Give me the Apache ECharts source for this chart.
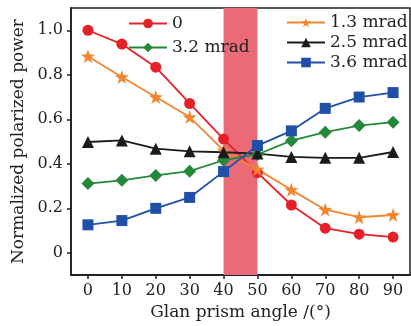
<!DOCTYPE html>
<html><head><meta charset="utf-8">
<script src="https://cdn.jsdelivr.net/npm/echarts@6/dist/echarts.min.js"></script>
<style>html,body{margin:0;padding:0;background:#fff}#c{width:411px;height:326px}</style>
</head><body><div id="c"></div>
<script>
const angles = [0,10,20,30,40,50,60,70,80,90];
const xTicks = [0,10,20,30,40,50,60,70,80,90];
const yTicks = [0,0.2,0.4,0.6,0.8,1.0];
const s0 = [1.00,0.938,0.834,0.671,0.511,0.36,0.215,0.111,0.084,0.071];
const s13 = [0.883,0.79,0.70,0.61,0.46,0.375,0.283,0.194,0.16,0.17];
const s25 = [0.498,0.505,0.468,0.456,0.452,0.446,0.431,0.427,0.427,0.453];
const s32 = [0.311,0.326,0.348,0.367,0.416,0.442,0.504,0.542,0.572,0.587];
const s36 = [0.126,0.145,0.20,0.249,0.365,0.482,0.548,0.649,0.70,0.72];
const band = [40,50];

const font = 'DejaVu Serif';
const txt = '#222';
function mk(name, vals, color, symbol, size, extra){
  return Object.assign({
    name, type:'line', data: angles.map((a,i)=>[a, vals[i]]),
    symbol, symbolSize:size, lineStyle:{color, width:1.8}, itemStyle:{color},
    emphasis:{disabled:true}
  }, extra||{});
}
const chart = echarts.init(document.getElementById('c'), null, {renderer:'canvas'});
chart.setOption({
  animation:false,
  grid:{left:71, right:1, top:8, bottom:49, show:true, borderColor:'#222', borderWidth:1.5},
  xAxis:{type:'value', min:-5, max:95,
    name:'Glan prism angle /(°)', nameLocation:'middle', nameGap:25,
    nameTextStyle:{fontFamily:font, fontSize:17, color:txt},
    axisLine:{onZero:false, lineStyle:{color:'#222', width:1.8}},
    axisTick:{show:true, inside:false, length:4, customValues:xTicks, lineStyle:{color:'#222', width:1.5}},
    axisLabel:{customValues:xTicks, fontFamily:font, fontSize:16, color:txt, margin:8},
    splitLine:{show:false}},
  yAxis:{type:'value', min:-0.1, max:1.1,
    name:'Normalized polarized power', nameLocation:'middle', nameGap:42,
    nameTextStyle:{fontFamily:font, fontSize:17, color:txt},
    axisLine:{show:true, onZero:false, lineStyle:{color:'#222', width:1.8}},
    axisTick:{show:true, inside:false, length:4, customValues:yTicks, lineStyle:{color:'#222', width:1.5}},
    axisLabel:{customValues:yTicks, fontFamily:font, fontSize:16, color:txt, margin:8,
      formatter:v=> Math.abs(v)<1e-9 ? '0' : v.toFixed(1)},
    splitLine:{show:false}},
  legend:[
    {data:['0','3.2 mrad'], orient:'vertical', left:128, top:15, itemWidth:38, itemHeight:12, itemGap:7,
     textStyle:{fontFamily:font, fontSize:17, color:txt}, padding:0},
    {data:['1.3 mrad','2.5 mrad','3.6 mrad'], orient:'vertical', left:286, top:14, itemWidth:38, itemHeight:12, itemGap:3,
     textStyle:{fontFamily:font, fontSize:17, color:txt}, padding:0}
  ],
  series:[
    mk('0', s0, '#e52128', 'circle', 11, {
      markArea:{silent:true, itemStyle:{color:'#ea6b77', opacity:1}, data:[[{xAxis:band[0]},{xAxis:band[1]}]]}
    }),
    mk('1.3 mrad', s13, '#f28630', 'path://M50,0 L61.8,36.2 L100,38.2 L69.1,61.8 L80.9,100 L50,76.4 L19.1,100 L30.9,61.8 L0,38.2 L38.2,36.2 Z', 14),
    mk('3.2 mrad', s32, '#24883a', 'diamond', 13),
    mk('2.5 mrad', s25, '#1b1b1b', 'triangle', 12),
    mk('3.6 mrad', s36, '#1f4fa6', 'rect', 11)
  ]
});
</script></body></html>
